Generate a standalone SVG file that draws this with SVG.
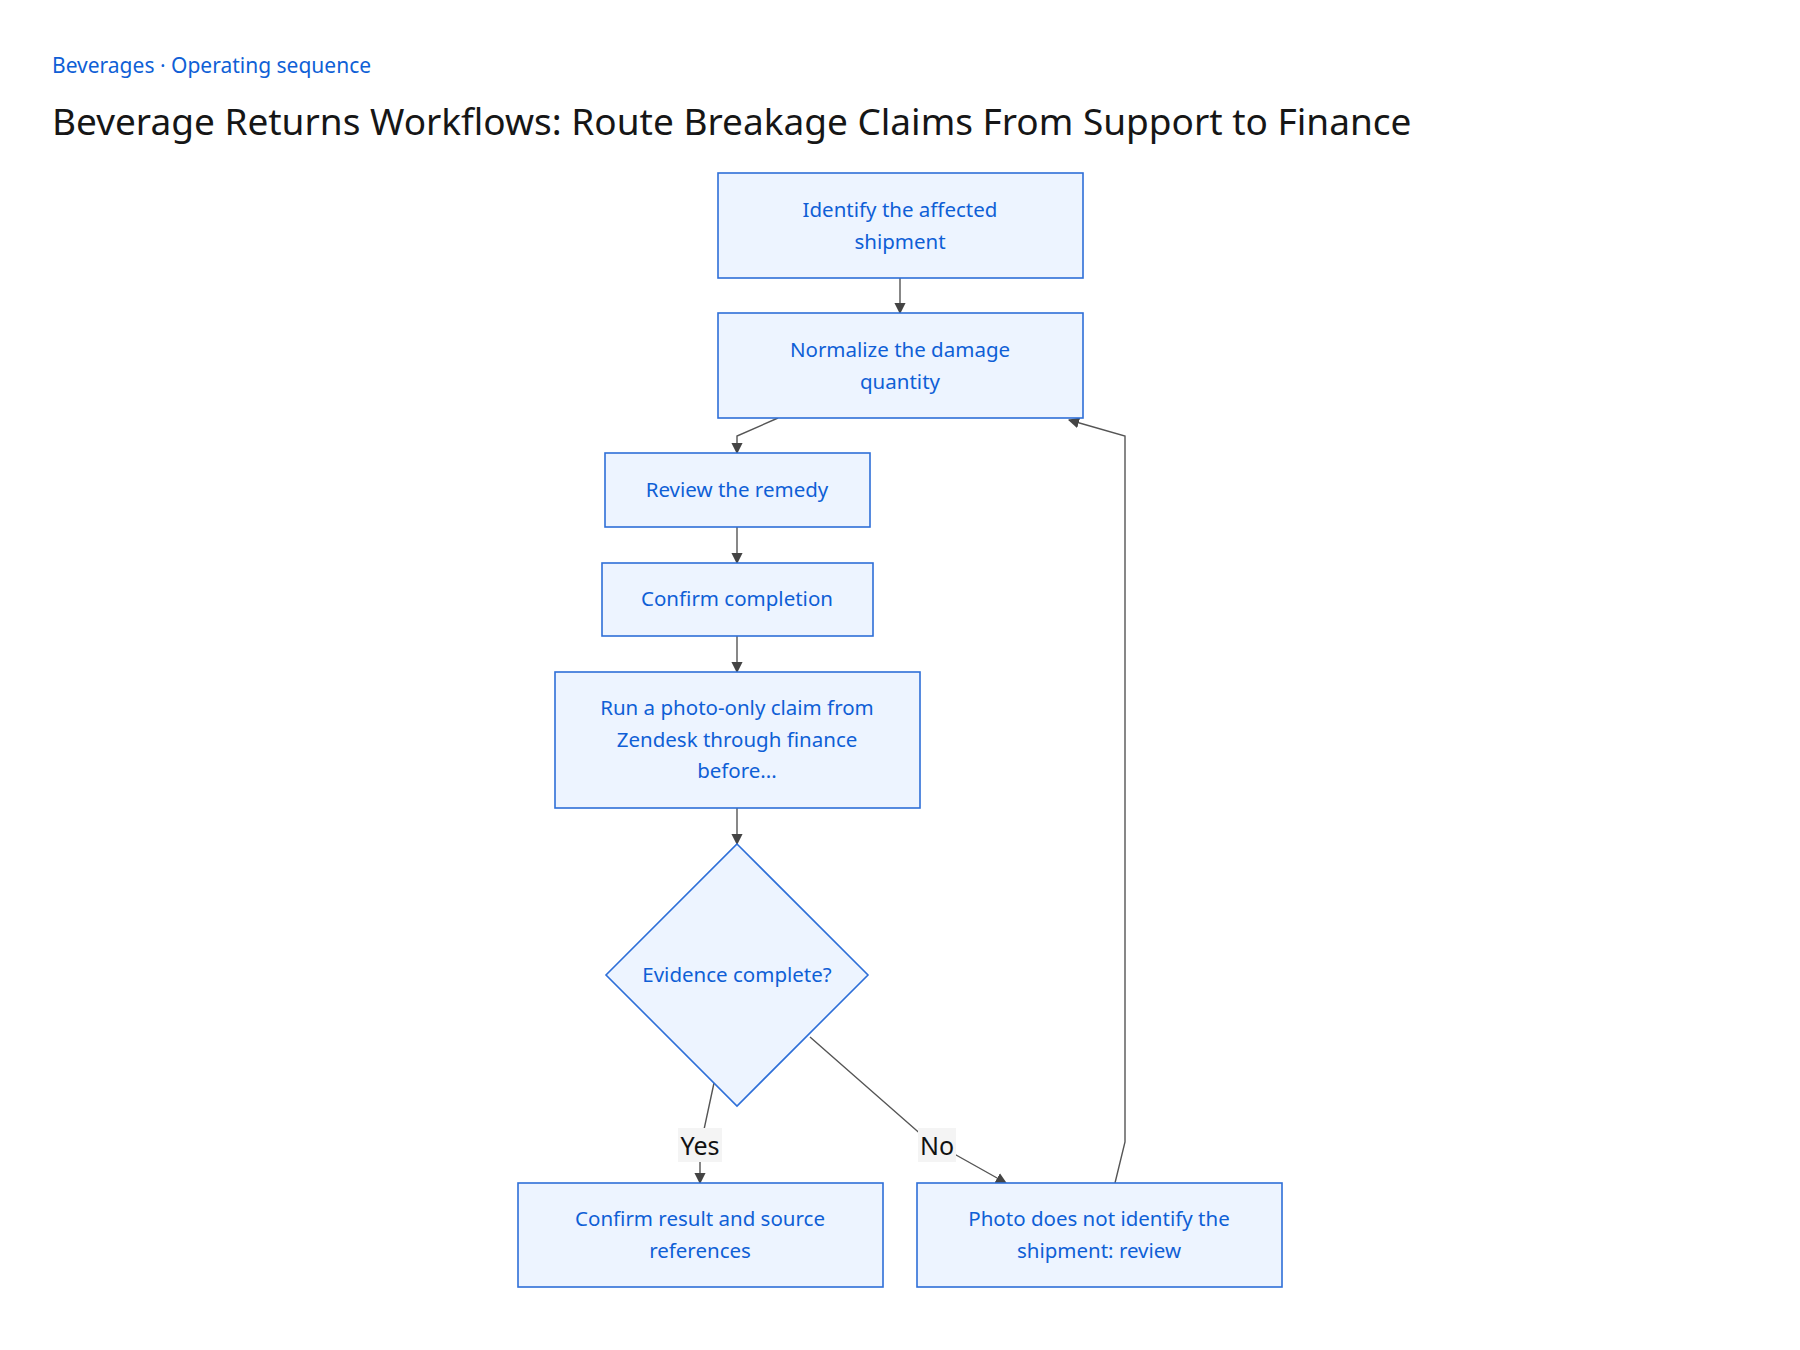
<svg xmlns="http://www.w3.org/2000/svg" width="1800" height="1350" viewBox="0 0 1800 1350">
<style>
.n{fill:#edf4ff;stroke:#2e6fd8;stroke-width:1.6}
.t{font-family:"Noto Sans","Liberation Sans",sans-serif;font-size:20.5px;fill:#0f5fd6;text-anchor:middle}
.e{fill:none;stroke:#555;stroke-width:1.4;marker-end:url(#a)}
.l{font-family:"Noto Sans","Liberation Sans",sans-serif;font-size:25px;fill:#111;text-anchor:middle}
</style>
<defs><marker id="a" viewBox="0 0 10 10" refX="9" refY="5" markerWidth="8" markerHeight="8" orient="auto-start-reverse"><path d="M0,0L10,5L0,10z" fill="#444"/></marker></defs>
<rect width="1800" height="1350" fill="#fff"/>
<text x="52" y="73" font-family="Noto Sans,Liberation Sans,sans-serif" font-size="21" fill="#0f5fd6">Beverages · Operating sequence</text>
<text x="52" y="135" font-family="Noto Sans,Liberation Sans,sans-serif" font-size="37" fill="#161616">Beverage Returns Workflows: Route Breakage Claims From Support to Finance</text>
<g id="edges">
<path class="e" d="M900,278V313"/>
<path class="e" d="M778,418L737,436V453"/>
<path class="e" d="M737,527V563"/>
<path class="e" d="M737,636V672"/>
<path class="e" d="M737,808V844"/>
<path class="e" d="M714,1083L700,1148V1183"/>
<path class="e" d="M810,1037L924,1137L1006,1183"/>
<path class="e" d="M1115,1183L1125,1142V436L1069,420"/>
<rect x="678" y="1128" width="44" height="34" fill="#f4f4f4"/>
<text class="l" x="700" y="1155">Yes</text>
<rect x="918" y="1128" width="38" height="34" fill="#f4f4f4"/>
<text class="l" x="937" y="1155">No</text>
</g>
<g id="n1"><rect class="n" x="718" y="173" width="365" height="105"/><text class="t" x="900" y="217">Identify the affected</text><text class="t" x="900" y="249">shipment</text></g>
<g id="n2"><rect class="n" x="718" y="313" width="365" height="105"/><text class="t" x="900" y="357">Normalize the damage</text><text class="t" x="900" y="389">quantity</text></g>
<g id="n3"><rect class="n" x="605" y="453" width="265" height="74"/><text class="t" x="737" y="497">Review the remedy</text></g>
<g id="n4"><rect class="n" x="602" y="563" width="271" height="73"/><text class="t" x="737" y="606">Confirm completion</text></g>
<g id="n5"><rect class="n" x="555" y="672" width="365" height="136"/><text class="t" x="737" y="715">Run a photo-only claim from</text><text class="t" x="737" y="747">Zendesk through finance</text><text class="t" x="737" y="778">before...</text></g>
<g id="d"><path class="n" d="M737,844L868,975L737,1106L606,975z"/><text class="t" x="737" y="982">Evidence complete?</text></g>
<g id="yes"><rect class="n" x="518" y="1183" width="365" height="104"/><text class="t" x="700" y="1226">Confirm result and source</text><text class="t" x="700" y="1258">references</text></g>
<g id="no"><rect class="n" x="917" y="1183" width="365" height="104"/><text class="t" x="1099" y="1226">Photo does not identify the</text><text class="t" x="1099" y="1258">shipment: review</text></g>
</svg>
